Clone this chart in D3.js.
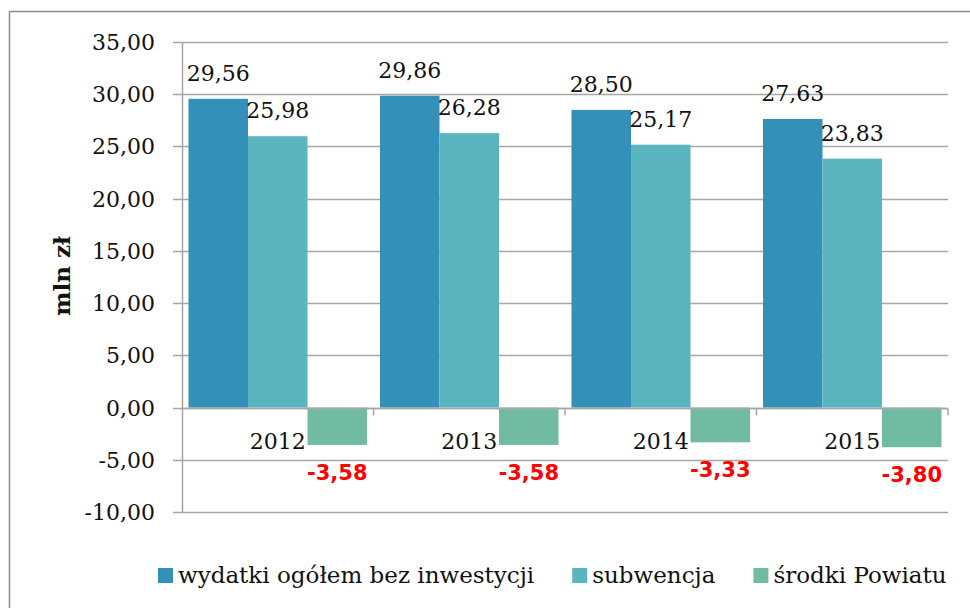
<!DOCTYPE html>
<html>
<head>
<meta charset="utf-8">
<script src="https://cdn.jsdelivr.net/npm/d3@7"></script>
<style>
  body { margin: 0; background: #fff; }
  svg { display: block; }
</style>
</head>
<body>
<svg id="chart"></svg>
<script>
// data
const years = ['2012', '2013', '2014', '2015'];
const seriesNames = ['wydatki ogółem bez inwestycji', 'subwencja', 'środki Powiatu'];
const wydatki = [29.56, 29.86, 28.50, 27.63];
const subwencja = [25.98, 26.28, 25.17, 23.83];
const srodki = [-3.58, -3.58, -3.33, -3.80];
const yTicks = [-10, -5, 0, 5, 10, 15, 20, 25, 30, 35];
const seriesColors = ['#3391b9', '#5ab5bf', '#72bba3'];

const width = 970;
const height = 608;
const serif = '"DejaVu Serif", serif';
const sans = '"DejaVu Sans", sans-serif';

const svg = d3.select('#chart')
    .attr('width', width)
    .attr('height', height);

// outer frame of the chart area
svg.append('rect')
    .attr('x', 9.5)
    .attr('y', 11.5)
    .attr('width', width)
    .attr('height', height)
    .style('fill', 'none')
    .style('stroke', '#8c8c8c')
    .style('stroke-width', 1.5);

const plot = {left: 182, right: 948, top: 42, bottom: 512};

const y = d3.scaleLinear()
    .domain([-10, 35])
    .range([plot.bottom, plot.top]);

const x0 = d3.scaleBand()
    .domain(years)
    .range([plot.left, plot.right])
    .padding(0);

const x1 = d3.scaleBand()
    .domain(d3.range(seriesNames.length))
    .range([0, x0.bandwidth()])
    .paddingInner(0)
    .paddingOuter(0.109);

const fmt = (v) => d3.format('.2f')(v).replace('.', ',').replace('−', '-');

// gridlines
svg.append('g')
    .selectAll('line')
    .data(yTicks)
    .join('line')
    .attr('x1', plot.left - 9)
    .attr('x2', plot.right)
    .attr('y1', (d) => Math.round(y(d)) + 0.5)
    .attr('y2', (d) => Math.round(y(d)) + 0.5)
    .style('stroke', '#a6a6a6')
    .style('stroke-width', 1.5);

// y axis labels
svg.append('g')
    .selectAll('text')
    .data(yTicks)
    .join('text')
    .attr('x', 155)
    .attr('y', (d) => y(d) + 8)
    .attr('text-anchor', 'end')
    .style('font-family', serif)
    .style('font-size', '22px')
    .style('fill', '#111')
    .text(fmt);

// y axis title
svg.append('text')
    .attr('transform', 'translate(70,276) rotate(-90)')
    .attr('text-anchor', 'middle')
    .style('font-family', serif)
    .style('font-size', '23px')
    .style('font-weight', 'bold')
    .style('fill', '#111')
    .text('mln zł');

// bars
const values = [wydatki, subwencja, srodki];
const rows = [];
years.forEach((yr, i) => {
  values.forEach((s, k) => rows.push({year: yr, series: k, value: s[i]}));
});

svg.append('g')
    .selectAll('rect')
    .data(rows)
    .join('rect')
    .attr('x', (d) => x0(d.year) + x1(d.series))
    .attr('width', x1.bandwidth())
    .attr('y', (d) => y(Math.max(0, d.value)))
    .attr('height', (d) => Math.abs(y(d.value) - y(0)))
    .style('fill', (d) => seriesColors[d.series]);

// y axis line
svg.append('line')
    .attr('x1', plot.left + 0.5)
    .attr('x2', plot.left + 0.5)
    .attr('y1', plot.top)
    .attr('y2', plot.bottom)
    .style('stroke', '#a6a6a6')
    .style('stroke-width', 1.5);

// x axis line with category ticks
const zeroY = Math.round(y(0)) + 0.5;
svg.append('line')
    .attr('x1', plot.left)
    .attr('x2', plot.right)
    .attr('y1', zeroY)
    .attr('y2', zeroY)
    .style('stroke', '#a6a6a6')
    .style('stroke-width', 1.5);

svg.append('g')
    .selectAll('line')
    .data(years.map((yr) => x0(yr) + x0.bandwidth()))
    .join('line')
    .attr('x1', (d) => d)
    .attr('x2', (d) => d)
    .attr('y1', zeroY)
    .attr('y2', zeroY + 7)
    .style('stroke', '#a6a6a6')
    .style('stroke-width', 1.5);

// category labels
svg.append('g')
    .selectAll('text')
    .data(years)
    .join('text')
    .attr('x', (d) => x0(d) + x0.bandwidth() / 2)
    .attr('y', zeroY + 40)
    .attr('text-anchor', 'middle')
    .style('font-family', serif)
    .style('font-size', '22px')
    .style('fill', '#111')
    .text((d) => d);

// value labels
svg.append('g')
    .selectAll('text')
    .data(rows)
    .join('text')
    .attr('x', (d) => x0(d.year) + x1(d.series) + x1.bandwidth() / 2)
    .attr('y', (d) => d.value >= 0 ? y(d.value) - 18 : y(d.value) + 35)
    .attr('text-anchor', 'middle')
    .style('font-family', (d) => d.value >= 0 ? serif : sans)
    .style('font-size', (d) => d.value >= 0 ? '22px' : '21px')
    .style('font-weight', (d) => d.value >= 0 ? 'normal' : 'bold')
    .style('fill', (d) => d.value >= 0 ? '#111' : '#ff0000')
    .text((d) => fmt(d.value));

// legend
const legend = svg.append('g');
let lx = 158;
seriesNames.forEach((name, k) => {
  legend.append('rect')
      .attr('x', lx)
      .attr('y', 568)
      .attr('width', 15)
      .attr('height', 15)
      .style('fill', seriesColors[k]);
  const t = legend.append('text')
      .attr('x', lx + 20)
      .attr('y', 583)
      .style('font-family', serif)
      .style('font-size', '23px')
      .style('fill', '#111')
      .text(name);
  lx += 20 + t.node().getComputedTextLength() + 38;
});
</script>
</body>
</html>
